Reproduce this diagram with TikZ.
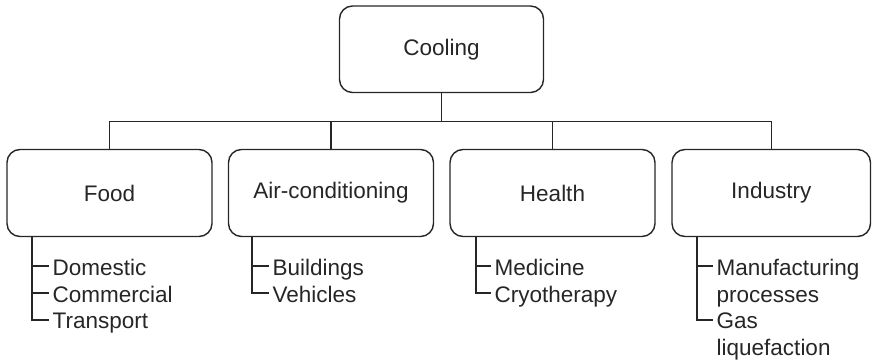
\documentclass[tikz,border=0pt]{standalone}
\usepackage{fontspec}
\setmainfont{Liberation Sans}
\begin{document}
\begin{tikzpicture}[x=1pt,y=-1pt,
  line width=1.4pt, draw={black!85},
  catbox/.style={draw, rounded corners=13pt, minimum width=205pt, minimum height=87pt,
    inner sep=0pt, font=\fontsize{22.5}{27}\selectfont, text=black!85},
  item/.style={anchor=north west, inner xsep=3pt, inner ysep=0pt, align=left,
    font=\fontsize{22.5}{27}\selectfont, text=black!85},
  link/.style={line width=1.4pt, draw=black!85}]
\useasboundingbox (0,0) rectangle (872,361);

% top level
\node[catbox, minimum width=204pt, minimum height=86.5pt] (cool) at (441.5,49.25) {Cooling};

% second level
\node[catbox] (food)   at (109.5,193) {Food};
\node[catbox] (air)    at (331,193)   {Air-conditioning};
\node[catbox] (health) at (552.5,193) {Health};
\node[catbox, minimum width=198.5pt] (ind) at (771.25,193) {Industry};

% tree connectors
\coordinate (bus) at (441.5,121.7);
\draw[link] (cool.south) -- (bus);
\draw[link] (bus) -| (food.north);
\draw[link] (bus) -| (ind.north);
\draw[link] (bus -| air.north) -- (air.north);
\draw[link] (bus -| health.north) -- (health.north);

% sub-lists
\node[item] (dom)   at (49,258)  {Domestic};
\node[item] (com)   at (49,285)  {Commercial};
\node[item] (trans) at (49,312)  {Transport};

\node[item] (bld)   at (269,258) {Buildings};
\node[item] (veh)   at (269,285) {Vehicles};

\node[item] (med)   at (491,258) {Medicine};
\node[item] (cryo)  at (491,285) {Cryotherapy};

\node[item] (manu)  at (713,258) {Manufacturing\\processes};
\node[item] (gas)   at (713,312) {Gas\\liquefaction};

% list brackets
\coordinate (fl) at (32,237);
\coordinate (al) at (252,237);
\coordinate (hl) at (476,237);
\coordinate (il) at (697,237);

\draw[link] (fl) |- ([yshift=-8pt]trans.north west);
\draw[link] (fl |- dom.north west) ++(0,8) -- ([yshift=-8pt]dom.north west);
\draw[link] (fl |- com.north west) ++(0,8) -- ([yshift=-8pt]com.north west);

\draw[link] (al) |- ([yshift=-8pt]veh.north west);
\draw[link] (al |- bld.north west) ++(0,8) -- ([yshift=-8pt]bld.north west);

\draw[link] (hl) |- ([yshift=-8pt]cryo.north west);
\draw[link] (hl |- med.north west) ++(0,8) -- ([yshift=-8pt]med.north west);

\draw[link] (il) |- ([yshift=-8pt]gas.north west);
\draw[link] (il |- manu.north west) ++(0,8) -- ([yshift=-8pt]manu.north west);
\end{tikzpicture}
\end{document}
